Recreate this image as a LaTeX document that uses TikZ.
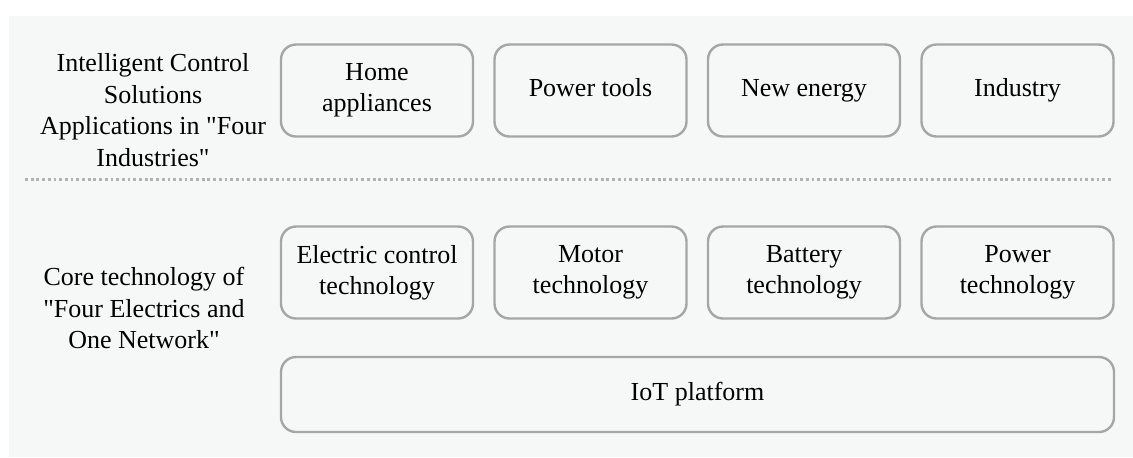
\documentclass[tikz,border=0pt]{standalone}
\usepackage{fontspec}
\setmainfont{Liberation Serif}
\usetikzlibrary{positioning}
\definecolor{bgcol}{HTML}{F6F8F8}
\definecolor{boxline}{HTML}{A6A6A6}
\definecolor{dotline}{HTML}{B2B2B2}

\begin{document}
\begin{tikzpicture}[x=0.5pt,y=-0.5pt,
	box/.style={draw=boxline,line width=1.2pt,rounded corners=7.5pt,outer sep=0pt,inner sep=0pt,
		minimum width=96pt,minimum height=46pt,align=center,font=\fontsize{13}{15.5}\selectfont},
	oneline/.style={text height=9pt,text depth=3pt},
	side/.style={align=center,font=\fontsize{13}{15.8}\selectfont}]
	\useasboundingbox (0,0) rectangle (1133,457);
	\fill[bgcol] (9,16) rectangle (1133,457);

	%% labels on the left
	\node[side] (apps) at (153,110) {Intelligent Control\\Solutions\\Applications in \textquotedbl Four\\Industries\textquotedbl};
	\node[side] (core) at (144,308) {Core technology of\\\textquotedbl Four Electrics and\\One Network\textquotedbl};

	%% four industries
	\node[box] (home) at (377,90.5) {Home\\appliances};
	\node[box,oneline,right=10.75pt of home] (tools) {Power tools};
	\node[box,oneline,right=10.75pt of tools] (energy) {New energy};
	\node[box,oneline,right=10.75pt of energy] (industry) {Industry};

	\coordinate (sepL) at (25,179);
	\coordinate (sepR) at (1112,179);
	\draw[dotline,line width=1.5pt,dash pattern=on 1.4pt off 1.45pt] (sepL) -- (sepR);

	%% four electrics
	\node[box] (elec) at (377,272.5) {Electric control\\technology};
	\node[box,right=10.75pt of elec] (motor) {Motor\\technology};
	\node[box,right=10.75pt of motor] (battery) {Battery\\technology};
	\node[box,right=10.75pt of battery] (power) {Power\\technology};

	%% one network
	\node[box,oneline,minimum width=416.5pt,minimum height=37.5pt] (iot) at (697.5,394.5) {IoT platform};
\end{tikzpicture}
\end{document}
